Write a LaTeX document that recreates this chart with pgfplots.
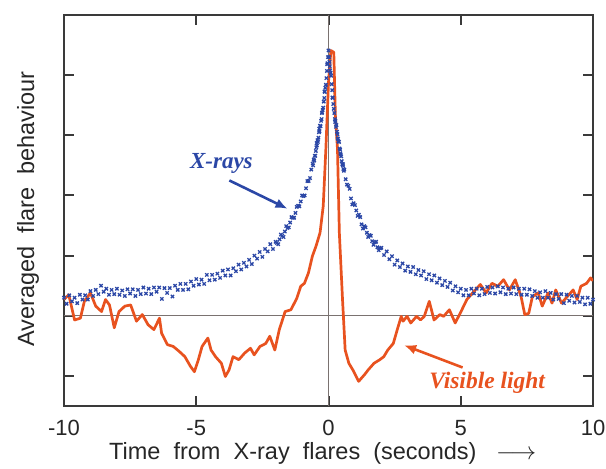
\documentclass[border=0pt]{standalone}
\usepackage{fontspec}
\setmainfont{Liberation Sans}
\newfontfamily\serifbi{Liberation Serif}
\usepackage{pgfplots}
\pgfplotsset{compat=1.18}
\usetikzlibrary{arrows.meta}
\definecolor{xblue}{HTML}{2B47A6}
\definecolor{vorange}{HTML}{E8521F}
\definecolor{boxgray}{HTML}{3A3A3A}
\definecolor{zerogray}{HTML}{7A7270}
\begin{document}
\begin{tikzpicture}
\begin{axis}[
  scale only axis,
  width=529pt, height=391pt,
  xmin=-10, xmax=10, ymin=-1.5, ymax=5,
  axis line style={boxgray, line width=2.2pt},
  xtick={-10,-5,0,5,10},
  xticklabels={-10,-5,0,5,10},
  ytick={-1,0,1,2,3,4},
  yticklabels={},
  tick align=inside,
  tick pos=both,
  major tick length=10pt,
  tick style={boxgray, line width=2pt},
  xticklabel style={font=\fontsize{22}{26}\selectfont, anchor=center, yshift=-22pt, text=black!85},
  xlabel={Time\ \ from\ \ X-ray\ \ flares\ \ (seconds)\ \ \ $\longrightarrow$},
  xlabel style={font=\fontsize{23.5}{27}\selectfont, at={(axis description cs:0.489,-0.122)}, anchor=center, text=black!85},
  ylabel={Averaged\ \ flare\ \ behaviour},
  ylabel style={font=\fontsize{23.5}{27}\selectfont, at={(axis description cs:-0.068,0.504)}, anchor=center, text=black!85},
  clip=true,
]
\draw[zerogray, line width=1.3pt] (axis cs:-10,0) -- (axis cs:10,0);
\draw[zerogray, line width=1.3pt] (axis cs:0,-1.5) -- (axis cs:0,5);

% X-rays
\addplot[only marks, mark=x, mark size=2.3pt, xblue, mark options={line width=1.3pt}] coordinates {
(-10.0,0.30) (-9.9,0.20) (-9.8,0.34) (-9.7,0.24) (-9.6,0.30) (-9.5,0.21) (-9.4,0.35) (-9.3,0.27) (-9.2,0.34) (-9.1,0.27)
(-9.0,0.41) (-8.9,0.33) (-8.8,0.43) (-8.7,0.36) (-8.6,0.50) (-8.5,0.40) (-8.4,0.45) (-8.3,0.35) (-8.2,0.43) (-8.1,0.36)
(-8.0,0.45) (-7.9,0.35) (-7.8,0.42) (-7.7,0.33) (-7.6,0.44) (-7.5,0.37) (-7.4,0.44) (-7.3,0.33) (-7.2,0.43) (-7.1,0.36)
(-7.0,0.47) (-6.9,0.37) (-6.8,0.45) (-6.7,0.36) (-6.6,0.47) (-6.5,0.40) (-6.4,0.47) (-6.3,0.28) (-6.2,0.46) (-6.1,0.38)
(-6.0,0.46) (-5.9,0.32) (-5.8,0.50) (-5.7,0.43) (-5.6,0.53) (-5.5,0.43) (-5.4,0.53) (-5.3,0.44) (-5.2,0.57) (-5.1,0.50)
(-5.0,0.61) (-4.9,0.52) (-4.8,0.60) (-4.7,0.53) (-4.6,0.68) (-4.5,0.59) (-4.4,0.68) (-4.3,0.60) (-4.2,0.70) (-4.1,0.63)
(-4.0,0.75) (-3.9,0.67) (-3.8,0.77) (-3.7,0.67) (-3.6,0.79) (-3.5,0.74) (-3.4,0.85) (-3.3,0.77) (-3.2,0.88) (-3.1,0.82)
(-3.0,0.93) (-2.9,0.86) (-2.8,1.00) (-2.7,0.95) (-2.6,1.06) (-2.5,0.98) (-2.4,1.11) (-2.3,1.07) (-2.2,1.19) (-2.1,1.11)
(-2.0,1.23) (-1.9,1.19) (-1.8,1.35) (-1.7,1.31) (-1.6,1.49) (-1.5,1.47) (-1.4,1.64) (-1.3,1.63) (-1.2,1.81) (-1.1,1.82)
(-1.0,2.00) (-0.9,2.00) (-0.8,2.24) (-0.7,2.29) (-0.6,2.53) (-0.5,2.66) (-0.45,2.87) (-0.4,2.89) (-0.35,3.11) (-0.3,3.15)
(-0.25,3.37) (-0.2,3.46) (-0.15,3.73) (-0.1,3.84) (-0.05,4.18) (0.0,4.41) (0.05,4.15) (0.1,3.99) (0.15,3.63) (0.2,3.44)
(0.25,3.22) (0.3,3.17) (0.35,2.95) (0.4,2.89) (0.45,2.70) (0.5,2.57) (0.55,2.52) (0.6,2.43) (0.65,2.27) (0.7,2.18) (0.75,2.16) (0.8,2.11) (0.85,1.95) (0.9,1.85) (1.0,1.84)
(1.1,1.66) (1.2,1.64) (1.3,1.45) (1.4,1.47) (1.5,1.31) (1.6,1.33) (1.7,1.18) (1.8,1.23) (1.9,1.09) (2.0,1.13)
(2.1,1.01) (2.2,1.07) (2.3,0.94) (2.4,0.99) (2.5,0.85) (2.6,0.92) (2.7,0.81) (2.8,0.87) (2.9,0.75) (3.0,0.82)
(3.1,0.73) (3.2,0.81) (3.3,0.69) (3.4,0.76) (3.5,0.67) (3.6,0.74) (3.7,0.61) (3.8,0.69) (3.9,0.59) (4.0,0.67)
(4.1,0.55) (4.2,0.62) (4.3,0.51) (4.4,0.58) (4.5,0.48) (4.6,0.55) (4.7,0.42) (4.8,0.49) (4.9,0.39) (5.0,0.45)
(5.1,0.34) (5.2,0.43) (5.3,0.34) (5.4,0.45) (5.5,0.37) (5.6,0.45) (5.7,0.34) (5.8,0.45) (5.9,0.36) (6.0,0.48)
(6.1,0.38) (6.2,0.47) (6.3,0.37) (6.4,0.49) (6.5,0.39) (6.6,0.47) (6.7,0.36) (6.8,0.45) (6.9,0.37) (7.0,0.47)
(7.1,0.36) (7.2,0.45) (7.3,0.35) (7.4,0.45) (7.5,0.35) (7.6,0.44) (7.7,0.33) (7.8,0.41) (7.9,0.30) (8.0,0.39)
(8.1,0.30) (8.2,0.41) (8.3,0.30) (8.4,0.38) (8.5,0.27) (8.6,0.36) (8.7,0.28) (8.8,0.36) (8.9,0.21) (9.0,0.35)
(9.1,0.25) (9.2,0.33) (9.3,0.22) (9.4,0.33) (9.5,0.23) (9.6,0.30) (9.7,0.19) (9.8,0.30) (9.9,0.20) (10.0,0.27)
};
\addplot[only marks, mark=x, mark size=2.3pt, xblue, mark options={line width=1.3pt}] coordinates {
(-1.95,1.21) (-1.85,1.27) (-1.75,1.33) (-1.65,1.40) (-1.55,1.46) (-1.45,1.55) (-1.35,1.63) (-1.25,1.71) (-1.15,1.83) (-1.05,1.90)
(-0.95,1.99) (-0.85,2.12) (-0.75,2.24) (-0.65,2.43)
(-0.58,2.50) (-0.56,2.60) (-0.54,2.58) (-0.52,2.66) (-0.48,2.74) (-0.46,2.80) (-0.44,2.83) (-0.42,2.92) (-0.38,2.96) (-0.36,3.05)
(-0.34,3.07) (-0.32,3.16) (-0.28,3.24) (-0.26,3.27) (-0.24,3.38) (-0.22,3.42) (-0.18,3.56) (-0.16,3.62) (-0.14,3.72) (-0.12,3.79)
(-0.08,3.95) (-0.06,4.07) (-0.04,4.20) (-0.02,4.30) (0.02,4.30) (0.04,4.22) (0.06,4.08) (0.08,4.04) (0.12,3.85) (0.14,3.75)
(0.16,3.62) (0.18,3.52) (0.22,3.37) (0.24,3.27) (0.26,3.24) (0.28,3.14) (0.32,3.06) (0.34,3.02) (0.36,2.94) (0.38,2.90)
(0.42,2.78) (0.44,2.76) (0.46,2.68) (0.48,2.65) (0.52,2.52) (0.54,2.50) (0.56,2.44) (0.58,2.41)
(0.95,1.87) (1.05,1.75) (1.15,1.68) (1.25,1.52) (1.35,1.49) (1.45,1.38) (1.55,1.34) (1.65,1.24) (1.75,1.22) (1.85,1.14) (1.95,1.12)
};

% Visible light
\addplot[vorange, line width=2.7pt, line join=round] coordinates {
(-10.0,0.27) (-9.82,0.35) (-9.6,-0.07) (-9.38,-0.04) (-9.23,0.24) (-9.0,0.38) (-8.8,0.16) (-8.58,0.07) (-8.43,0.27) (-8.28,0.18)
(-8.1,-0.2) (-7.92,0.07) (-7.7,0.16) (-7.48,0.18) (-7.26,-0.09) (-7.04,0.02) (-6.82,-0.15) (-6.6,-0.23) (-6.39,-0.04) (-6.31,-0.29)
(-6.09,-0.48) (-5.87,-0.51) (-5.65,-0.59) (-5.43,-0.68) (-5.22,-0.84) (-5.07,-0.93) (-4.92,-0.73) (-4.78,-0.51) (-4.56,-0.37) (-4.44,-0.57)
(-4.27,-0.68) (-4.05,-0.79) (-3.9,-1.01) (-3.76,-0.9) (-3.61,-0.68) (-3.39,-0.73) (-3.17,-0.62) (-2.95,-0.54) (-2.81,-0.65) (-2.59,-0.51)
(-2.37,-0.46) (-2.22,-0.34) (-2.03,-0.57) (-1.86,-0.23) (-1.64,0.07) (-1.42,0.1) (-1.2,0.29) (-1.05,0.49) (-0.91,0.54) (-0.76,0.71)
(-0.61,0.99) (-0.47,1.16) (-0.32,1.38) (-0.2,1.82) (-0.1,2.77) (0.0,3.88) (0.09,4.41) (0.2,4.38) (0.26,3.33) (0.34,2.77)
(0.41,1.38) (0.53,0.27) (0.63,-0.57) (0.77,-0.79) (0.92,-0.9) (1.14,-1.09) (1.36,-0.98) (1.5,-0.9) (1.72,-0.79) (1.94,-0.73)
(2.09,-0.68) (2.24,-0.57) (2.45,-0.46) (2.6,-0.23) (2.75,-0.01) (2.82,-0.09) (2.97,-0.01) (3.11,-0.12) (3.33,-0.01) (3.48,-0.07)
(3.62,-0.01) (3.81,0.24) (3.99,-0.07) (4.21,0.02) (4.35,-0.01) (4.57,0.1) (4.79,-0.12) (5.01,0.07) (5.23,0.27) (5.45,0.38)
(5.74,0.52) (5.96,0.38) (6.18,0.54) (6.4,0.49) (6.62,0.6) (6.84,0.43) (7.06,0.6) (7.28,0.32) (7.42,0.02) (7.57,0.04)
(7.71,0.32) (7.93,0.38) (8.08,0.16) (8.3,0.38) (8.45,0.21) (8.59,0.43) (8.81,0.21) (9.03,0.32) (9.25,0.43) (9.4,0.27)
(9.54,0.49) (9.76,0.54) (9.91,0.63) (10.0,0.58)
};

\node[xblue, font=\serifbi\bfseries\itshape\fontsize{23}{27}\selectfont] at (axis cs:-4.05,2.53) {X-rays};
\draw[xblue, line width=2.6pt, -{Latex[length=12pt, width=10pt]}] (axis cs:-3.75,2.25) -- (axis cs:-1.55,1.78);
\node[vorange, font=\serifbi\bfseries\itshape\fontsize{23.5}{27}\selectfont] at (axis cs:6.0,-1.12) {Visible light};
\draw[vorange, line width=2.6pt, -{Latex[length=12pt, width=10pt]}] (axis cs:5.07,-0.86) -- (axis cs:2.86,-0.49);
\end{axis}
\pgfresetboundingbox
\path[use as bounding box] ([xshift=-64pt,yshift=-62pt]current axis.south west) rectangle ([xshift=13pt,yshift=15pt]current axis.north east);
\end{tikzpicture}
\end{document}
